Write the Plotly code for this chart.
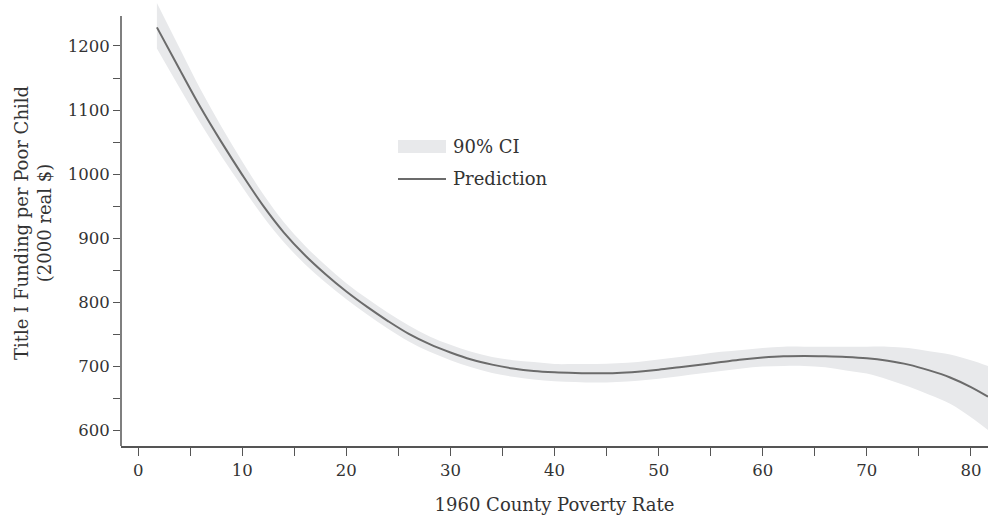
import plotly.graph_objects as go

# Data
poverty_rate = [1.8, 4, 6, 8, 10, 12, 14, 16, 18, 20, 22, 24, 26, 28, 30, 32, 34, 36, 38, 40,
                42, 44, 46, 48, 50, 52, 54, 56, 58, 60, 62, 64, 66, 68, 70, 72, 74, 76, 78, 80, 81.64]
prediction = [1229, 1163, 1104, 1050, 999, 951, 909, 874, 844, 817, 793, 771, 751, 735, 722, 711, 703, 697, 693, 691,
              690, 689.5, 690, 692, 695, 699, 703, 707, 711, 714, 716, 716.5, 716, 715, 713, 709, 703, 694, 683, 668, 653]
ci_upper = [1267, 1196, 1132, 1074, 1020, 969, 925, 889, 858, 830, 806, 784, 764, 747, 734, 723, 715, 710, 707, 704,
            704, 704, 705, 707, 711, 715, 719, 723, 726, 729, 731, 731, 731, 731, 731, 731, 729, 724, 719, 710, 701]
ci_lower = [1196, 1134, 1079, 1028, 980, 934, 894, 860, 831, 805, 781, 759, 739, 723, 710, 699, 690, 684, 680, 677,
            676, 675, 676, 678, 681, 685, 689, 693, 697, 700, 701, 701, 699, 694, 689, 680, 669, 656, 642, 621, 601]

x_tickvals = [0, 10, 20, 30, 40, 50, 60, 70, 80]
y_tickvals = [600, 700, 800, 900, 1000, 1100, 1200]

FONT = "DejaVu Serif"
TEXT = "#333333"
AXIS = "#555555"
LINE = "#6b6b6b"
BAND = "#e8e9eb"

fig = go.Figure()
fig.add_trace(go.Scatter(x=poverty_rate, y=ci_lower, mode="lines", line=dict(width=0, shape="spline"),
                         hoverinfo="skip", showlegend=False))
fig.add_trace(go.Scatter(x=poverty_rate, y=ci_upper, mode="lines", line=dict(width=0, shape="spline"),
                         fill="tonexty", fillcolor=BAND, name="90% CI", showlegend=False))
fig.add_trace(go.Scatter(x=poverty_rate, y=prediction, mode="lines",
                         line=dict(color=LINE, width=2, shape="spline"),
                         name="Prediction", showlegend=False))

W, H = 990, 518
ml, mr, mt, mb = 121, 2, 0, 72
pw, ph = W - ml - mr, H - mt - mb

def px(xp):
    return (xp - ml) / pw

def py(yp):
    return (H - mb - yp) / ph

y_top_axis = 1246.8
y_range = [576.1, 1271.7]

shapes = [
    # y-axis line (stops below the top of the plot area; the band extends above it)
    dict(type="line", xref="paper", yref="y", x0=0, x1=0, y0=y_range[0], y1=y_top_axis,
         line=dict(color=AXIS, width=1.5)),
    # legend swatches
    dict(type="rect", xref="paper", yref="paper", x0=px(398), x1=px(446), y0=py(153), y1=py(140),
         fillcolor=BAND, line=dict(width=0)),
    dict(type="line", xref="paper", yref="paper", x0=px(398), x1=px(446), y0=py(179), y1=py(179),
         line=dict(color=LINE, width=2)),
]
annotations = [
    dict(xref="paper", yref="paper", x=px(451), y=py(147), text="90% CI", showarrow=False,
         xanchor="left", yanchor="middle", font=dict(family=FONT, size=18, color=TEXT)),
    dict(xref="paper", yref="paper", x=px(451), y=py(178), text="Prediction", showarrow=False,
         xanchor="left", yanchor="middle", font=dict(family=FONT, size=18, color=TEXT)),
]

fig.update_layout(
    width=W, height=H,
    margin=dict(l=ml, r=mr, t=mt, b=mb),
    paper_bgcolor="white", plot_bgcolor="white",
    font=dict(family=FONT, size=16, color=TEXT),
    shapes=shapes, annotations=annotations,
    showlegend=False,
)
fig.update_xaxes(
    range=[-1.65, 81.64], tickvals=x_tickvals, ticktext=[str(v) for v in x_tickvals],
    automargin=False,
    showgrid=False, zeroline=False, showline=True, linecolor=AXIS, linewidth=1.5,
    ticks="outside", ticklen=8, tickcolor=AXIS, tickwidth=1.2,
    minor=dict(dtick=5, tick0=0, ticks="outside", ticklen=8, tickcolor=AXIS, tickwidth=1.2, showgrid=False),
    title=dict(text="1960 County Poverty Rate", standoff=20, font=dict(family=FONT, size=18, color=TEXT)),
    tickfont=dict(family=FONT, size=16.5, color=TEXT),
)
fig.update_yaxes(
    range=y_range, tickvals=y_tickvals, ticktext=[str(v) for v in y_tickvals],
    automargin=False,
    showgrid=False, zeroline=False, showline=False,
    ticks="outside", ticklen=7, tickcolor=AXIS, tickwidth=1.2,
    minor=dict(tickvals=[650, 750, 850, 950, 1050, 1150], ticks="outside", ticklen=7,
               tickcolor=AXIS, tickwidth=1.2, showgrid=False),
    title=dict(text="Title I Funding per Poor Child<br>(2000 real $)", standoff=11,
               font=dict(family=FONT, size=18, color=TEXT)),
    tickfont=dict(family=FONT, size=16.5, color=TEXT),
)

# remove the browser's default 8px page margin so the figure fills the 990x518 window exactly
fig.write_html("out.html", config={"displayModeBar": False},
               post_script="document.body.style.margin='0';")
